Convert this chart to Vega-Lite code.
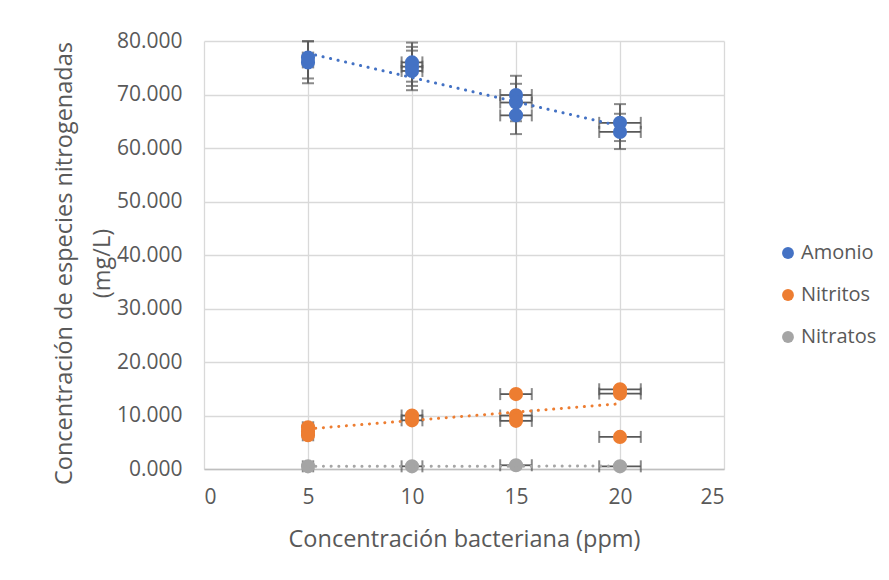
{
  "$schema": "https://vega.github.io/schema/vega-lite/v6.json",
  "width": 520,
  "height": 428,
  "autosize": "none",
  "padding": {"left": 204, "top": 41, "right": 165, "bottom": 111},
  "background": "white",
  "config": {
    "view": {"stroke": null},
    "font": "Open Sans",
    "axis": {
      "grid": true,
      "gridColor": "#D9D9D9",
      "gridWidth": 1.3,
      "ticks": false,
      "labelFontSize": 21,
      "labelColor": "#595959",
      "titleFontSize": 23.5,
      "titleColor": "#595959",
      "titleFontWeight": "normal"
    },
    "axisX": {"domainColor": "#BFBFBF", "domainWidth": 1.5, "labelPadding": 17, "titlePadding": 20},
    "axisY": {"domain": false, "labelPadding": 22, "titlePadding": 2, "titleLineHeight": 38, "titleY": 222}
  },
  "datasets": {
    "pts": [
      {"series": "Amonio", "x": 5, "y": 76.0, "xlo": 4.75, "xhi": 5.25, "ylo": 72.1, "yhi": 79.9},
      {"series": "Amonio", "x": 5, "y": 76.9, "xlo": 4.75, "xhi": 5.25, "ylo": 73.0, "yhi": 80.0},
      {"series": "Amonio", "x": 10, "y": 76.0, "xlo": 9.5, "xhi": 10.5, "ylo": 72.4, "yhi": 79.7},
      {"series": "Amonio", "x": 10, "y": 75.2, "xlo": 9.5, "xhi": 10.5, "ylo": 71.6, "yhi": 78.9},
      {"series": "Amonio", "x": 10, "y": 74.4, "xlo": 9.5, "xhi": 10.5, "ylo": 70.8, "yhi": 78.2},
      {"series": "Amonio", "x": 15, "y": 69.9, "xlo": 14.24, "xhi": 15.76, "ylo": 66.4, "yhi": 73.5},
      {"series": "Amonio", "x": 15, "y": 68.5, "xlo": 14.24, "xhi": 15.76, "ylo": 65.0, "yhi": 72.0},
      {"series": "Amonio", "x": 15, "y": 66.1, "xlo": 14.24, "xhi": 15.76, "ylo": 62.6, "yhi": 69.6},
      {"series": "Amonio", "x": 20, "y": 64.7, "xlo": 19.0, "xhi": 21.0, "ylo": 61.3, "yhi": 68.2},
      {"series": "Amonio", "x": 20, "y": 63.0, "xlo": 19.0, "xhi": 21.0, "ylo": 59.8, "yhi": 66.4},
      {"series": "Nitritos", "x": 5, "y": 7.8, "xlo": 4.75, "xhi": 5.25},
      {"series": "Nitritos", "x": 5, "y": 7.0, "xlo": 4.75, "xhi": 5.25},
      {"series": "Nitritos", "x": 5, "y": 6.3, "xlo": 4.75, "xhi": 5.25},
      {"series": "Nitritos", "x": 10, "y": 10.0, "xlo": 9.5, "xhi": 10.5},
      {"series": "Nitritos", "x": 10, "y": 9.1, "xlo": 9.5, "xhi": 10.5},
      {"series": "Nitritos", "x": 15, "y": 14.0, "xlo": 14.24, "xhi": 15.76},
      {"series": "Nitritos", "x": 15, "y": 10.0, "xlo": 14.24, "xhi": 15.76},
      {"series": "Nitritos", "x": 15, "y": 9.0, "xlo": 14.24, "xhi": 15.76},
      {"series": "Nitritos", "x": 20, "y": 14.9, "xlo": 19.0, "xhi": 21.0},
      {"series": "Nitritos", "x": 20, "y": 14.1, "xlo": 19.0, "xhi": 21.0},
      {"series": "Nitritos", "x": 20, "y": 6.0, "xlo": 19.0, "xhi": 21.0},
      {"series": "Nitratos", "x": 5, "y": 0.5, "xlo": 4.75, "xhi": 5.25},
      {"series": "Nitratos", "x": 10, "y": 0.5, "xlo": 9.5, "xhi": 10.5},
      {"series": "Nitratos", "x": 15, "y": 0.7, "xlo": 14.24, "xhi": 15.76},
      {"series": "Nitratos", "x": 20, "y": 0.5, "xlo": 19.0, "xhi": 21.0}
    ],
    "trend": [
      {"series": "Amonio", "x": 5, "y": 77.7},
      {"series": "Amonio", "x": 20, "y": 64.1},
      {"series": "Nitritos", "x": 5, "y": 7.5},
      {"series": "Nitritos", "x": 20, "y": 12.2},
      {"series": "Nitratos", "x": 5, "y": 0.5},
      {"series": "Nitratos", "x": 20, "y": 0.55}
    ]
  },
  "layer": [
    {
      "data": {"name": "pts"},
      "transform": [{"filter": "isValid(datum.ylo)"}],
      "mark": {"type": "rule", "color": "#595959", "strokeWidth": 1.8},
      "encoding": {
        "x": {"field": "x", "type": "quantitative", "scale": {"domain": [0, 25], "nice": false}, "axis": {"values": [0, 5, 10, 15, 20, 25]}, "title": "Concentración bacteriana (ppm)"},
        "y": {"field": "ylo", "type": "quantitative", "scale": {"domain": [0, 80], "nice": false}, "axis": {"values": [0, 10, 20, 30, 40, 50, 60, 70, 80], "format": ".3f"}, "title": ["Concentración de especies nitrogenadas", "(mg/L)"]},
        "y2": {"field": "yhi"}
      }
    },
    {
      "data": {"name": "pts"},
      "transform": [{"filter": "isValid(datum.ylo)"}],
      "mark": {"type": "tick", "orient": "horizontal", "color": "#595959", "size": 12, "thickness": 2},
      "encoding": {
        "x": {"field": "x", "type": "quantitative", "title": "Concentración bacteriana (ppm)"},
        "y": {"field": "ylo", "type": "quantitative", "title": ["Concentración de especies nitrogenadas", "(mg/L)"]}
      }
    },
    {
      "data": {"name": "pts"},
      "transform": [{"filter": "isValid(datum.yhi)"}],
      "mark": {"type": "tick", "orient": "horizontal", "color": "#595959", "size": 12, "thickness": 2},
      "encoding": {
        "x": {"field": "x", "type": "quantitative", "title": "Concentración bacteriana (ppm)"},
        "y": {"field": "yhi", "type": "quantitative", "title": ["Concentración de especies nitrogenadas", "(mg/L)"]}
      }
    },
    {
      "data": {"name": "pts"},
      "mark": {"type": "rule", "color": "#595959", "strokeWidth": 1.8},
      "encoding": {
        "x": {"field": "xlo", "type": "quantitative", "title": "Concentración bacteriana (ppm)"},
        "x2": {"field": "xhi"},
        "y": {"field": "y", "type": "quantitative", "title": ["Concentración de especies nitrogenadas", "(mg/L)"]}
      }
    },
    {
      "data": {"name": "pts"},
      "mark": {"type": "tick", "orient": "vertical", "color": "#595959", "size": 12, "thickness": 2},
      "encoding": {
        "x": {"field": "xlo", "type": "quantitative", "title": "Concentración bacteriana (ppm)"},
        "y": {"field": "y", "type": "quantitative", "title": ["Concentración de especies nitrogenadas", "(mg/L)"]}
      }
    },
    {
      "data": {"name": "pts"},
      "mark": {"type": "tick", "orient": "vertical", "color": "#595959", "size": 12, "thickness": 2},
      "encoding": {
        "x": {"field": "xhi", "type": "quantitative", "title": "Concentración bacteriana (ppm)"},
        "y": {"field": "y", "type": "quantitative", "title": ["Concentración de especies nitrogenadas", "(mg/L)"]}
      }
    },
    {
      "data": {"name": "pts"},
      "mark": {"type": "circle", "size": 200, "opacity": 1},
      "encoding": {
        "x": {"field": "x", "type": "quantitative", "title": "Concentración bacteriana (ppm)"},
        "y": {"field": "y", "type": "quantitative", "title": ["Concentración de especies nitrogenadas", "(mg/L)"]},
        "color": {
          "field": "series", "type": "nominal",
          "scale": {"domain": ["Amonio", "Nitritos", "Nitratos"], "range": ["#4472C4", "#ED7D31", "#A5A5A5"]},
          "legend": {"title": null, "orient": "none", "legendX": 574, "legendY": 202, "labelFontSize": 20, "labelColor": "#595959", "symbolType": "circle", "symbolSize": 140, "symbolStrokeWidth": 0, "rowPadding": 22, "labelOffset": 3}
        }
      }
    },
    {
      "data": {"name": "trend"},
      "mark": {"type": "line", "strokeWidth": 3, "strokeDash": [0.1, 7.6], "strokeCap": "round"},
      "encoding": {
        "x": {"field": "x", "type": "quantitative", "title": "Concentración bacteriana (ppm)"},
        "y": {"field": "y", "type": "quantitative", "title": ["Concentración de especies nitrogenadas", "(mg/L)"]},
        "color": {"field": "series", "type": "nominal", "legend": null}
      }
    }
  ]
}
